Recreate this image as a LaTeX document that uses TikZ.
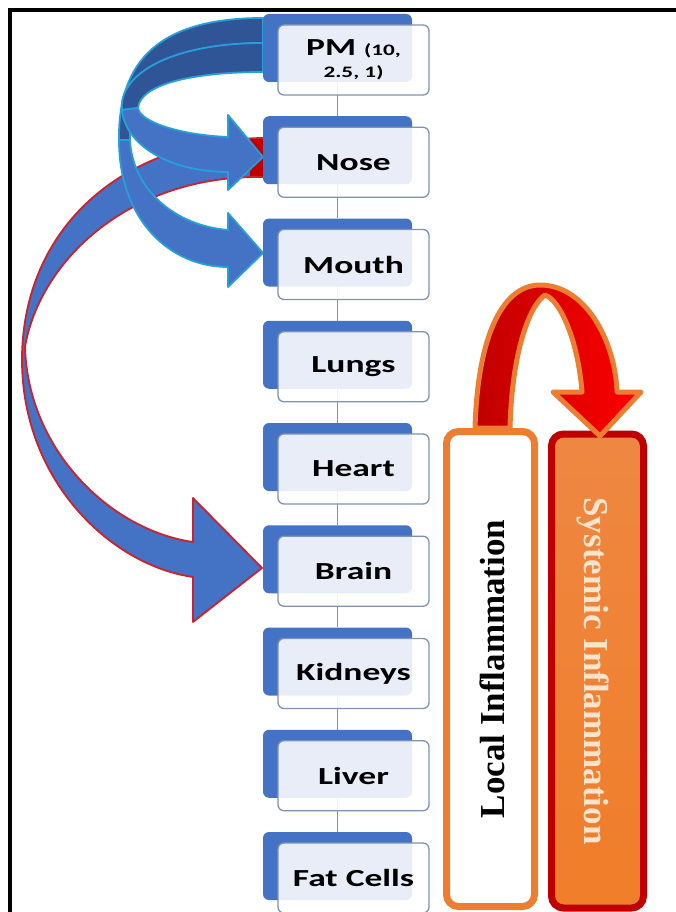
\documentclass[tikz,border=0pt]{standalone}
\usepackage{fontspec}
\usetikzlibrary{arrows.meta,positioning}
\newfontfamily\organfont[FakeStretch=1.45]{Carlito}
\newfontfamily\inflfont{Liberation Serif}
\definecolor{organblue}{HTML}{4472C4}
\definecolor{organdark}{HTML}{2F5597}
\definecolor{skyline}{HTML}{26A0DA}
\definecolor{boxedge}{HTML}{7F93B2}
\definecolor{inflorange}{HTML}{ED7D31}
\definecolor{infldark}{HTML}{C00000}
\definecolor{inflpale}{HTML}{FBE3CC}
\definecolor{brainred}{HTML}{D0202A}

\tikzset{
  organback/.style={fill=organblue, rounded corners=6pt, minimum width=149pt, minimum height=68pt, inner sep=0pt},
  organfront/.style={draw=boxedge, line width=1.3pt, fill=white, fill opacity=0.88, text opacity=1,
    rounded corners=6pt, minimum width=151pt, minimum height=70pt, inner sep=0pt, align=center,
    font=\organfont\bfseries\fontsize{24.5}{25}\selectfont},
  link/.style={draw=boxedge, line width=1.5pt},
  ribbonback/.style={draw=skyline, line width=1.8pt, fill=organdark, line join=round},
  ribbonfront/.style={draw=skyline, line width=1.8pt, fill=organblue, line join=round},
  brainarrow/.style={draw=brainred, line width=1.8pt, fill=organblue, line join=round},
  localbox/.style={draw=inflorange, line width=7pt, fill=white, rounded corners=12pt,
    minimum width=88pt, minimum height=475pt, inner sep=0pt},
  sysbox/.style={draw=infldark, line width=7pt, top color=inflorange!92!white, bottom color=inflorange!85!orange,
    rounded corners=12pt, minimum width=92pt, minimum height=474pt, inner sep=0pt},
  inflarrow/.style={draw=inflorange, line width=5pt, left color=infldark, right color=red, line join=round}
}

\begin{document}
\begin{tikzpicture}[x=1pt, y=-1pt]
  \useasboundingbox (0,0) rectangle (676,912);
  \fill[white] (0,0) rectangle (676,912);
  \draw[line width=4.5pt] (10,930) -- (10,10) -- (700,10);

  % nose to brain
  \draw[brainarrow] (263,138) .. controls (120,140) and (22,230) .. (22,360)
    .. controls (22,480) and (110,565) .. (193,577) -- (193,622) -- (262,568) -- (193,498) -- (193,542)
    .. controls (110,530) and (28,450) .. (25,347) .. controls (40,260) and (130,175) .. (263,177) -- cycle;
  \fill[infldark] (250,139) rectangle (264,176);

  % PM to mouth and nose
  \draw[ribbonback] (263,18) .. controls (160,18) and (118,60) .. (119,140) -- (130,140)
    .. controls (128,82) and (170,43) .. (263,43) -- cycle;
  \draw[ribbonback] (263,43) .. controls (170,43) and (118,75) .. (122,110) -- (138,108)
    .. controls (140,85) and (190,72) .. (263,72) -- cycle;
  \draw[ribbonfront] (122,110) .. controls (125,145) and (170,172) .. (228,172) -- (228,190) -- (263,157)
    -- (228,115) -- (228,137) .. controls (180,135) and (140,122) .. (138,108) -- cycle;
  \draw[ribbonfront] (119,140) .. controls (119,220) and (170,267) .. (228,267) -- (228,287) -- (263,253)
    -- (228,213) -- (228,230) .. controls (170,225) and (132,185) .. (130,140) -- cycle;

  % organ boxes
  \node[organback] (pm-b) at (337.5,48) {};
  \foreach \organ/\txt [count=\i, remember=\organ as \prev (initially pm)] in
    {nose/Nose, mouth/Mouth, lungs/Lungs, heart/Heart, brain/Brain, kidneys/Kidneys, liver/Liver, fat/Fat Cells} {
    \node[organback] (\organ-b) at (337.5,48+102.25*\i) {};
    \draw[link] (\prev-b.south) -- (\organ-b.north);
  }
  \node[organfront] (pm) at (353.5,60)
    {PM {\fontsize{16}{18}\selectfont(10,}\\[-3pt]{\fontsize{16}{18}\selectfont 2.5, 1)}};
  \foreach \organ/\txt [count=\i] in
    {nose/Nose, mouth/Mouth, lungs/Lungs, heart/Heart, brain/Brain, kidneys/Kidneys, liver/Liver, fat/Fat Cells} {
    \node[organfront] (\organ) at (353.5,60+102.25*\i) {\txt};
  }

  % inflammation
  \node[localbox, label={[rotate=90, yshift=-2pt, font=\inflfont\bfseries\fontsize{35}{40}\selectfont]center:Local Inflammation}]
    (local) at (490.5,669) {};
  \node[sysbox, label={[rotate=-90, yshift=-4pt, text=inflpale, font=\inflfont\bfseries\fontsize{35}{40}\selectfont]center:Systemic Inflammation}]
    (systemic) at (597.5,671) {};
  \draw[inflarrow] (475,428) .. controls (478,330) and (505,285) .. (540,285)
    .. controls (585,285) and (615,340) .. (617,392) -- (641,392) -- (600,436) -- (553,392) -- (582,392)
    .. controls (578,340) and (560,300) .. (545,295) .. controls (530,305) and (512,350) .. (510,428) -- cycle;
\end{tikzpicture}
\end{document}
